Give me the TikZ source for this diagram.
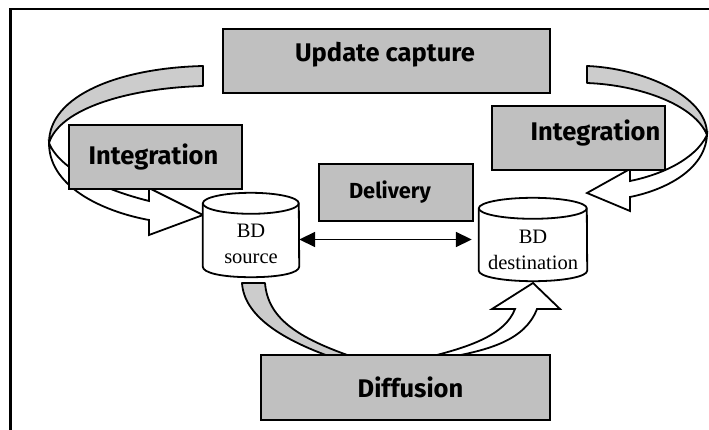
\documentclass[tikz,border=0pt]{standalone}
\usepackage{fontspec}
\setmainfont{Liberation Serif}
\newfontfamily\labelfont{Fira Sans}
\usetikzlibrary{arrows.meta}
\definecolor{boxgray}{HTML}{C0C0C0}
\definecolor{bandgray}{HTML}{CCCCCC}
\tikzset{
  box/.style={draw=black,fill=boxgray,line width=1.8pt,rectangle,inner sep=0pt,anchor=north west},
  boxlabel/.style={font=\labelfont\bfseries\fontsize{25.5}{30}\selectfont,text=black,inner sep=0pt,anchor=center},
  smalllabel/.style={boxlabel,font=\labelfont\bfseries\fontsize{21.8}{26}\selectfont},
  canframe/.style={rectangle,inner sep=0pt},
  cantext/.style={inner sep=0pt,align=center,font=\fontsize{20.5}{26}\selectfont},
  canline/.style={draw=black,fill=white,line width=1.8pt,line join=round},
  band/.style={draw=black,fill=bandgray,line width=1.8pt,line join=round},
  hollow/.style={draw=black,fill=white,line width=1.8pt,line join=miter},
  frameline/.style={draw=black,line width=2.2pt}
}
\newcommand{\candraw}[3]{% name, half width, half ellipse height
  \path[canline] ([yshift=-#3]#1.north west) arc[start angle=180,end angle=0,x radius=#2,y radius=#3]
    -- ([yshift=#3]#1.south east) .. controls +(0pt,-6pt) and +(30pt,0pt) .. (#1.south)
    .. controls +(-30pt,0pt) and +(0pt,-6pt) .. ([yshift=#3]#1.south west) -- cycle;
  \draw[line width=1.8pt] ([yshift=-#3]#1.north west) arc[start angle=180,end angle=360,x radius=#2,y radius=#3];
}
\begin{document}
\begin{tikzpicture}[x=1pt,y=-1pt]
\useasboundingbox (0,0) rectangle (709,430);
\draw[frameline] (10.5,430) -- (10.5,9) -- (709,9);
% left Integration arrow
\path[hollow] (49,143) .. controls (49,190) and (110,213) .. (149,220) -- (149,235) -- (203,215) -- (149,188) -- (149,201) .. controls (105,190) and (60,170) .. (49,143) -- cycle;
\path[band] (203,66) .. controls (120,68) and (49,95) .. (49,143) .. controls (60,108) and (130,88) .. (203,86) -- cycle;
% right Integration arrow
\path[hollow] (707,135) .. controls (705,170) and (665,190) .. (630,197) -- (630,211) -- (587,193) -- (630,169) -- (630,181) .. controls (660,175) and (695,160) .. (707,135) -- cycle;
\path[band] (587,66) .. controls (640,68) and (708,95) .. (707,135) .. controls (695,105) and (640,85) .. (587,83) -- cycle;
% Diffusion arrows
\path[band] (242,283) .. controls (244,315) and (280,340) .. (340,360) -- (365,361) .. controls (300,340) and (268,320) .. (265,283) -- cycle;
\path[hollow] (425,358) .. controls (470,347) and (505,335) .. (515,309) -- (492,309) -- (533,283) -- (560,309) -- (537,309) .. controls (525,340) and (490,350) .. (445,358) -- cycle;
% boxes
\node[box,minimum width=327pt,minimum height=64pt] (capture) at (222,28) {};
\node[boxlabel] (capturetext) at (385,55) {Update capture};
\node[box,minimum width=173pt,minimum height=64pt] (intleft) at (68,124) {};
\node[boxlabel] (intlefttext) at (153.5,157) {Integration};
\node[box,minimum width=173pt,minimum height=64pt] (intright) at (491,105) {};
\node[boxlabel] (intrighttext) at (595.5,133) {Integration};
\node[box,minimum width=154pt,minimum height=57pt] (delivery) at (318,163) {};
\node[smalllabel] (deliverytext) at (390,192) {Delivery};
\node[box,minimum width=289pt,minimum height=65pt] (diffusion) at (260,354) {};
\node[boxlabel] (diffusiontext) at (410.5,387) {Diffusion};
% databases
\node[canframe,minimum width=96pt,minimum height=84pt] (dbsrc) at (251,235) {};
\candraw{dbsrc}{48pt}{10.5pt}
\node[cantext] (dbsrctext) at (251,244) {BD\\source};
\node[canframe,minimum width=108pt,minimum height=83pt] (dbdst) at (533,239.5) {};
\candraw{dbdst}{54pt}{10.5pt}
\node[cantext] (dbdsttext) at (533,250) {BD\\destination};
\draw[line width=1.8pt,shorten >=7pt,{Triangle[width=15pt,length=16pt]}-{Triangle[width=15pt,length=16pt]}] (dbsrc.east |- dbdst.west) -- (dbdst.west);
\end{tikzpicture}
\end{document}
